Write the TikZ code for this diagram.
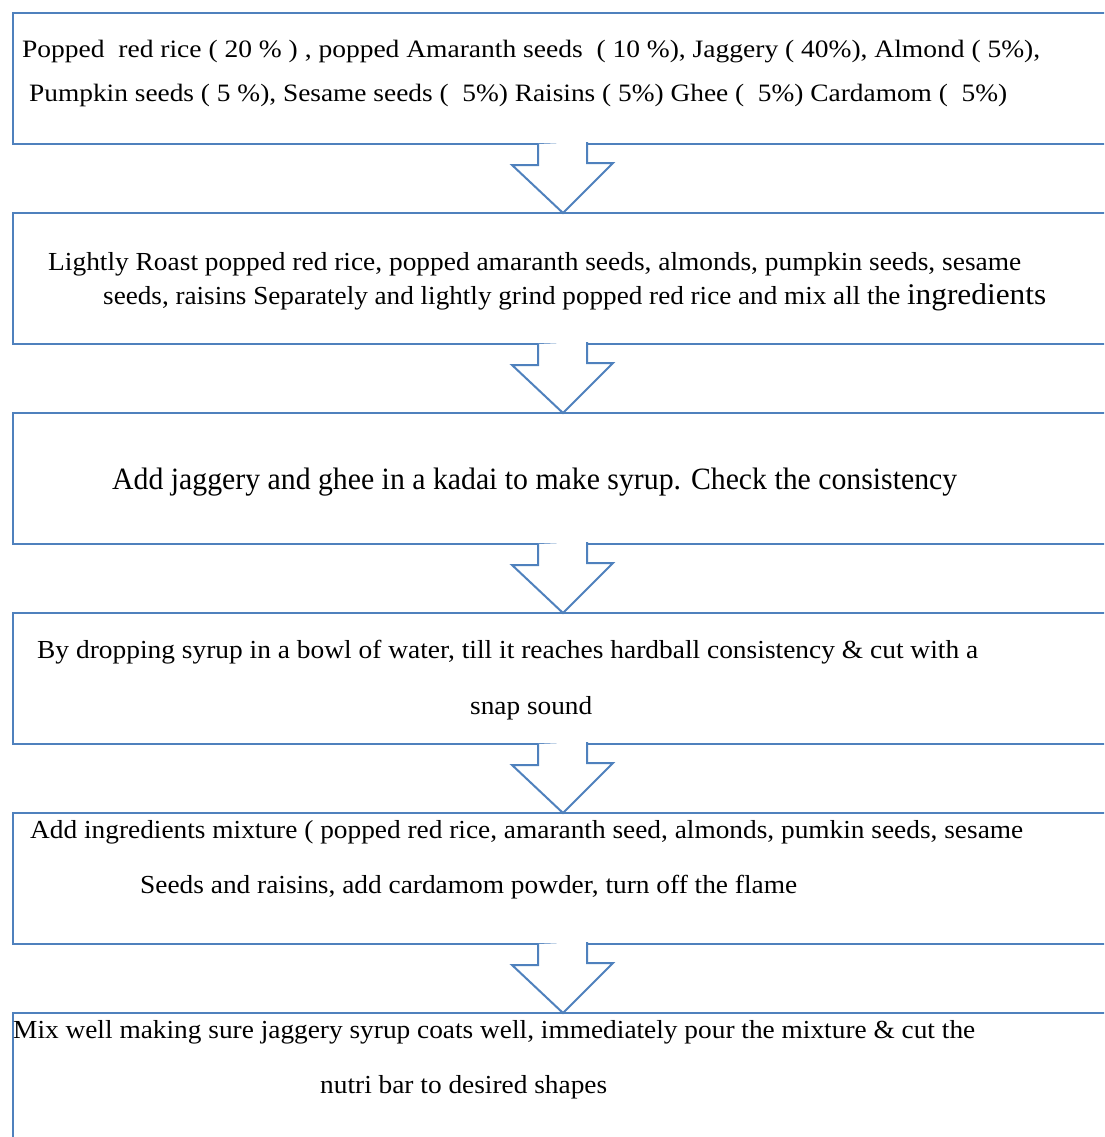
\documentclass[tikz,border=0pt]{standalone}
\usepackage{fontspec}
\setmainfont{Liberation Serif}
\usetikzlibrary{calc}
\definecolor{boxblue}{HTML}{4F81BD}
\newsavebox\tbox
\newcommand\fitline[3]{\sbox\tbox{\fontsize{#1}{#1}\selectfont #3}\pgfmathsetmacro\sx{#2/\wd\tbox}\scalebox{\sx}[1]{\usebox\tbox}}
\tikzset{
  stepbox/.style={draw=boxblue, line width=2pt, rectangle, anchor=north west, minimum width=1120pt, minimum height=131pt, inner sep=0pt},
  txt/.style={anchor=base west, inner sep=0pt, text=black},
  blockarr/.style={draw=boxblue, line width=2pt, fill=white, line join=miter}
}
\newcommand\flowarrow[2]{%
  \draw[blockarr] ($(#1.south -| ax)+(-25,-1)$) -- ++(0,21) -- ++(-26,0) -- ($(#2.north -| ax)+(0,1)$) -- ++(50,-50) -- ++(-26,0) -- ++(0,-21);}
\begin{document}
\begin{tikzpicture}[x=1pt,y=-1pt]
\useasboundingbox (0,0) rectangle (1104,1137);
\clip (0,0) rectangle (1104,1137);
\fill[white] (0,0) rectangle (1104,1137);
\coordinate (ax) at (563,0);
\node[stepbox] (b1) at (12,12) {};
\node[stepbox] (b2) at (12,212) {};
\node[stepbox] (b3) at (12,412) {};
\node[stepbox] (b4) at (12,612) {};
\node[stepbox] (b5) at (12,812) {};
\node[stepbox] (b6) at (12,1012) {};
\flowarrow{b1}{b2}
\flowarrow{b2}{b3}
\flowarrow{b3}{b4}
\flowarrow{b4}{b5}
\flowarrow{b5}{b6}
\node[txt] (t1a) at (22,58) {\fitline{25}{1018}{Popped\ \ red rice ( 20 \% ) , popped Amaranth seeds\ \ ( 10 \%), Jaggery ( 40\%), Almond ( 5\%),}};
\node[txt] (t1b) at (29,102) {\fitline{25}{978}{Pumpkin seeds ( 5 \%), Sesame seeds (\ \ 5\%) Raisins ( 5\%) Ghee (\ \ 5\%) Cardamom (\ \ 5\%)}};
\node[txt] (t2a) at (48,270) {\fitline{26}{973}{Lightly Roast popped red rice, popped amaranth seeds, almonds, pumpkin seeds, sesame}};
\node[txt] (t2b) at (103,304) {\fitline{26}{943}{seeds, raisins Separately and lightly grind popped red rice and mix all the {\fontsize{30}{30}\selectfont ingredients}}};
\node[txt] (t3) at (112,489) {\fitline{31}{845}{Add jaggery and ghee in a kadai to make syrup. Check the consistency}};
\node[txt] (t4a) at (37,658) {\fitline{26}{941}{By dropping syrup in a bowl of water, till it reaches hardball consistency \& cut with a}};
\node[txt] (t4b) at (470,714) {\fitline{26}{122}{snap sound}};
\node[txt] (t5a) at (30,838) {\fitline{26}{993}{Add ingredients mixture ( popped red rice, amaranth seed, almonds, pumkin seeds, sesame}};
\node[txt] (t5b) at (140,893) {\fitline{26}{657}{Seeds and raisins, add cardamom powder, turn off the flame}};
\node[txt] (t6a) at (13,1038) {\fitline{26}{962}{Mix well making sure jaggery syrup coats well, immediately pour the mixture \& cut the}};
\node[txt] (t6b) at (320,1093) {\fitline{26}{287}{nutri bar to desired shapes}};
\end{tikzpicture}
\end{document}
